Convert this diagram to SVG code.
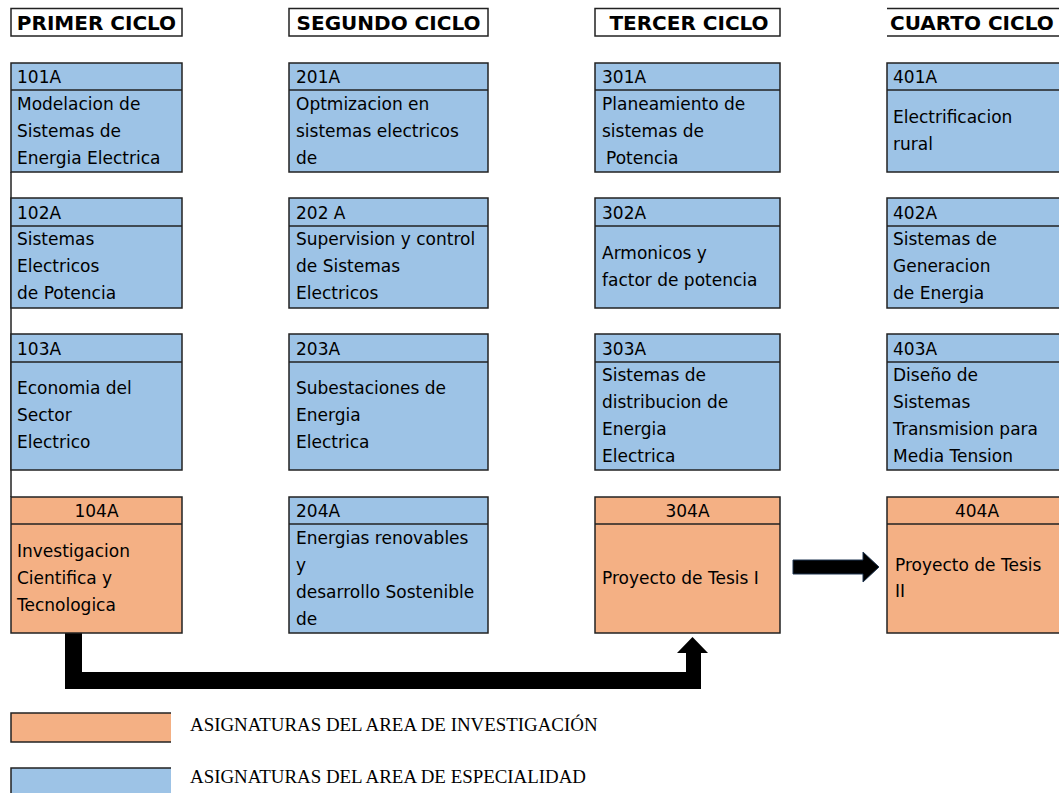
<svg xmlns="http://www.w3.org/2000/svg" width="1059" height="793" viewBox="0 0 1059 793">
<style>
.hdr{fill:#fff;stroke:#222;stroke-width:1.5}
.ht{font-family:"DejaVu Sans",sans-serif;font-weight:bold;font-size:20px;fill:#000}
.blue{fill:#9DC3E6;stroke:#222;stroke-width:1.5}
.org{fill:#F4B084;stroke:#222;stroke-width:1.5}
.div{stroke:#222;stroke-width:1.5}
.t{font-family:"DejaVu Sans",sans-serif;font-size:17px;fill:#000}
.c{text-anchor:middle}
.lg{font-family:"Liberation Serif","Times New Roman",serif;font-size:18.9px;fill:#000}
</style>
<rect width="1059" height="793" fill="#fff"/>

<g id="headers">
<g id="h1"><rect class="hdr" x="11" y="8.5" width="171" height="27.5"/><text class="ht c" x="96.5" y="29.5">PRIMER CICLO</text></g>
<g id="h2"><rect class="hdr" x="289" y="8.5" width="199" height="27.5"/><text class="ht c" x="388.5" y="29.5">SEGUNDO CICLO</text></g>
<g id="h3"><rect class="hdr" x="595" y="8.5" width="185" height="27.5"/><text class="ht c" x="689" y="29.5">TERCER CICLO</text></g>
<g id="h4"><path class="div" d="M887,8.5H1059M887,36H1059" fill="none"/><text class="ht" x="890" y="29.5">CUARTO CICLO</text></g>
</g>

<g id="connectors">
<line x1="11" y1="172" x2="11" y2="497" stroke="#222" stroke-width="1.5"/>
<path d="M65,633H82V672H686V653H677L692.5,637L708,653H701V689H65Z" fill="#000"/>
<path d="M793,560H863V552L879,567L863,582V574H793Z" fill="#000" stroke="#1f3550" stroke-width="1"/>
</g>

<!-- Row 1 -->
<g id="n101A"><rect class="blue" x="11" y="63" width="171" height="109"/><line class="div" x1="11" y1="90" x2="182" y2="90"/>
<text class="t" x="17" y="83">101A</text><text class="t" x="17" y="110">Modelacion de</text><text class="t" x="17" y="137">Sistemas de</text><text class="t" x="17" y="164">Energia Electrica</text></g>
<g id="n201A"><rect class="blue" x="289" y="63" width="199" height="109"/><line class="div" x1="289" y1="90" x2="488" y2="90"/>
<text class="t" x="296" y="83">201A</text><text class="t" x="296" y="110">Optmizacion en</text><text class="t" x="296" y="137">sistemas electricos</text><text class="t" x="296" y="164">de</text></g>
<g id="n301A"><rect class="blue" x="595" y="63" width="185" height="109"/><line class="div" x1="595" y1="90" x2="780" y2="90"/>
<text class="t" x="602" y="83">301A</text><text class="t" x="602" y="110">Planeamiento de</text><text class="t" x="602" y="137">sistemas de</text><text class="t" x="606" y="164">Potencia</text></g>
<g id="n401A"><rect class="blue" x="887" y="63" width="180" height="109"/><line class="div" x1="887" y1="90" x2="1067" y2="90"/>
<text class="t" x="893" y="83">401A</text><text class="t" x="893" y="123">Electrificacion</text><text class="t" x="893" y="150">rural</text></g>

<!-- Row 2 -->
<g id="n102A"><rect class="blue" x="11" y="198" width="171" height="110"/><line class="div" x1="11" y1="226" x2="182" y2="226"/>
<text class="t" x="17" y="219">102A</text><text class="t" x="17" y="245">Sistemas</text><text class="t" x="17" y="272">Electricos</text><text class="t" x="17" y="299">de Potencia</text></g>
<g id="n202A"><rect class="blue" x="289" y="198" width="199" height="110"/><line class="div" x1="289" y1="226" x2="488" y2="226"/>
<text class="t" x="296" y="219">202 A</text><text class="t" x="296" y="245">Supervision y control</text><text class="t" x="296" y="272">de Sistemas</text><text class="t" x="296" y="299">Electricos</text></g>
<g id="n302A"><rect class="blue" x="595" y="198" width="185" height="110"/><line class="div" x1="595" y1="226" x2="780" y2="226"/>
<text class="t" x="602" y="219">302A</text><text class="t" x="602" y="259">Armonicos y</text><text class="t" x="602" y="286">factor de potencia</text></g>
<g id="n402A"><rect class="blue" x="887" y="198" width="180" height="110"/><line class="div" x1="887" y1="226" x2="1067" y2="226"/>
<text class="t" x="893" y="219">402A</text><text class="t" x="893" y="245">Sistemas de</text><text class="t" x="893" y="272">Generacion</text><text class="t" x="893" y="299">de Energia</text></g>

<!-- Row 3 -->
<g id="n103A"><rect class="blue" x="11" y="334" width="171" height="136"/><line class="div" x1="11" y1="362" x2="182" y2="362"/>
<text class="t" x="17" y="355">103A</text><text class="t" x="17" y="394">Economia del</text><text class="t" x="17" y="421">Sector</text><text class="t" x="17" y="448">Electrico</text></g>
<g id="n203A"><rect class="blue" x="289" y="334" width="199" height="136"/><line class="div" x1="289" y1="362" x2="488" y2="362"/>
<text class="t" x="296" y="355">203A</text><text class="t" x="296" y="394">Subestaciones de</text><text class="t" x="296" y="421">Energia</text><text class="t" x="296" y="448">Electrica</text></g>
<g id="n303A"><rect class="blue" x="595" y="334" width="185" height="136"/><line class="div" x1="595" y1="362" x2="780" y2="362"/>
<text class="t" x="602" y="355">303A</text><text class="t" x="602" y="381">Sistemas de</text><text class="t" x="602" y="408">distribucion de</text><text class="t" x="602" y="435">Energia</text><text class="t" x="602" y="462">Electrica</text></g>
<g id="n403A"><rect class="blue" x="887" y="334" width="180" height="136"/><line class="div" x1="887" y1="362" x2="1067" y2="362"/>
<text class="t" x="893" y="355">403A</text><text class="t" x="893" y="381">Diseño de</text><text class="t" x="893" y="408">Sistemas</text><text class="t" x="893" y="435">Transmision para</text><text class="t" x="893" y="462">Media Tension</text></g>

<!-- Row 4 -->
<g id="n104A"><rect class="org" x="11" y="497" width="171" height="136"/><line class="div" x1="11" y1="524" x2="182" y2="524"/>
<text class="t c" x="96.5" y="517">104A</text><text class="t" x="17" y="557">Investigacion</text><text class="t" x="17" y="584">Cientifica y</text><text class="t" x="17" y="611">Tecnologica</text></g>
<g id="n204A"><rect class="blue" x="289" y="497" width="199" height="136"/><line class="div" x1="289" y1="524" x2="488" y2="524"/>
<text class="t" x="296" y="517">204A</text><text class="t" x="296" y="544">Energias renovables</text><text class="t" x="296" y="571">y</text><text class="t" x="296" y="598">desarrollo Sostenible</text><text class="t" x="296" y="625">de</text></g>
<g id="n304A"><rect class="org" x="595" y="497" width="185" height="136"/><line class="div" x1="595" y1="524" x2="780" y2="524"/>
<text class="t c" x="687.5" y="517">304A</text><text class="t" x="602" y="584">Proyecto de Tesis I</text></g>
<g id="n404A"><rect class="org" x="887" y="497" width="180" height="136"/><line class="div" x1="887" y1="524" x2="1067" y2="524"/>
<text class="t c" x="977" y="517">404A</text><text class="t" x="895" y="571">Proyecto de Tesis</text><text class="t" x="895" y="597">II</text></g>

<g id="legend">
<rect x="11" y="713" width="160" height="29" fill="#F4B084"/><path d="M171,713H11V742H171" fill="none" stroke="#222" stroke-width="1.5"/>
<text class="lg" x="190" y="731">ASIGNATURAS DEL AREA DE INVESTIGACIÓN</text>
<rect x="11" y="768" width="160" height="30" fill="#9DC3E6"/><path d="M171,768H11V800" fill="none" stroke="#222" stroke-width="1.5"/>
<text class="lg" x="190" y="783">ASIGNATURAS DEL AREA DE ESPECIALIDAD</text>
</g>
</svg>
